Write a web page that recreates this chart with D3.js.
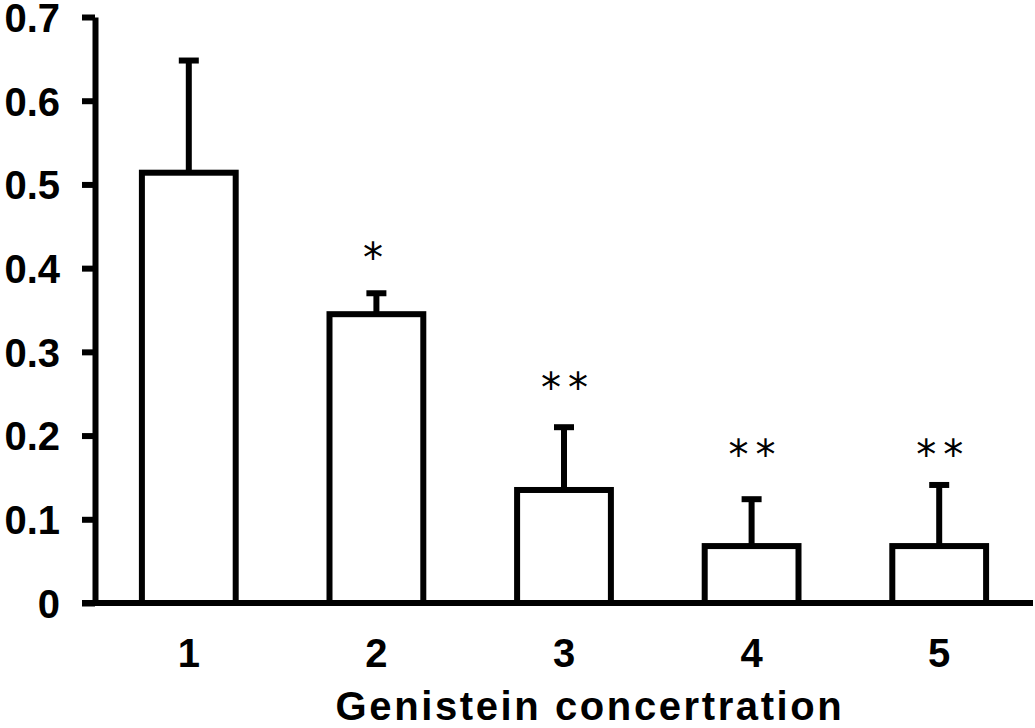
<!DOCTYPE html>
<html>
<head>
<meta charset="utf-8">
<script src="https://cdn.jsdelivr.net/npm/d3@7"></script>
<style>
  body { margin: 0; background: #fff; }
  text { font-family: "Liberation Sans", Arial, sans-serif; }
</style>
</head>
<body>
<div id="chart"></div>
<script>
// Chart data
var groups = ["1", "2", "3", "4", "5"];
var means = [0.514, 0.345, 0.135, 0.068, 0.068];
var errors = [0.134, 0.025, 0.075, 0.056, 0.073];
var marks = ["", "*", "**", "**", "**"];
var markLevels = [0, 0.422, 0.266, 0.186, 0.186];
var yTicks = [0, 0.1, 0.2, 0.3, 0.4, 0.5, 0.6, 0.7];

var svgWidth = 1035;
var svgHeight = 728;

var svg = d3.select("#chart")
  .append("svg")
  .attr("width", svgWidth)
  .attr("height", svgHeight);

var data = groups.map(function(g, i) {
  return { group: g, mean: means[i], err: errors[i], mark: marks[i], markAt: markLevels[i] };
});

// scales
var xScale = d3.scaleBand().domain(groups).range([95, 1033]).paddingInner(0.5).paddingOuter(0.25);
var yScale = d3.scaleLinear().domain([0, 0.7]).range([603, 17]);
var center = d => xScale(d) + xScale.bandwidth() / 2;

// bars
svg.selectAll("rect.bar")
  .data(data)
  .enter()
  .append("rect")
  .attr("class", "bar")
  .attr("x", d => xScale(d.group))
  .attr("y", d => yScale(d.mean))
  .attr("width", xScale.bandwidth())
  .attr("height", d => yScale(0) - yScale(d.mean))
  .attr("fill", "#fff")
  .attr("stroke", "#000")
  .attr("stroke-width", 6);

// error bars (upper only)
svg.selectAll("line.err")
  .data(data)
  .enter()
  .append("line")
  .attr("class", "err")
  .attr("x1", d => center(d.group))
  .attr("x2", d => center(d.group))
  .attr("y1", d => yScale(d.mean))
  .attr("y2", d => yScale(d.mean + d.err))
  .attr("stroke", "#000")
  .attr("stroke-width", 6);

svg.selectAll("line.cap")
  .data(data)
  .enter()
  .append("line")
  .attr("class", "cap")
  .attr("x1", d => center(d.group) - 10)
  .attr("x2", d => center(d.group) + 10)
  .attr("y1", d => yScale(d.mean + d.err))
  .attr("y2", d => yScale(d.mean + d.err))
  .attr("stroke", "#000")
  .attr("stroke-width", 6);

// significance marks
svg.selectAll("text.sig")
  .data(data.filter(d => d.mark))
  .enter()
  .append("text")
  .attr("class", "sig")
  .attr("x", d => center(d.group) + (d.mark.length > 1 ? 4 : 0))
  .attr("y", d => yScale(d.markAt) + 22)
  .attr("text-anchor", "middle")
  .style("font-family", "'DejaVu Sans', sans-serif")
  .style("font-size", "40px")
  .style("letter-spacing", "7px")
  .text(d => d.mark);

// y axis
var leftAxis = d3.axisLeft(yScale)
  .tickValues(yTicks)
  .tickSize(13)
  .tickSizeOuter(0)
  .tickFormat(d => d === 0 ? "0" : d3.format(".1f")(d));

var yAxisG = svg.append("g")
  .attr("transform", "translate(95,0)")
  .call(leftAxis);
yAxisG.select(".domain").attr("stroke-width", 6);
yAxisG.selectAll(".tick line").attr("stroke-width", 6);
yAxisG.selectAll(".tick text")
  .attr("x", -35)
  .attr("dy", "0.36em")
  .style("font-size", "40px")
  .style("font-weight", "bold")
  .style("font-family", "'Liberation Sans', Arial, sans-serif")
  .attr("fill", "#000");

// x axis
svg.append("line")
  .attr("x1", 82)
  .attr("x2", 1033)
  .attr("y1", yScale(0))
  .attr("y2", yScale(0))
  .attr("stroke", "#000")
  .attr("stroke-width", 6);

svg.selectAll("text.xlab")
  .data(groups)
  .enter()
  .append("text")
  .attr("class", "xlab")
  .attr("x", d => center(d))
  .attr("y", 667)
  .attr("text-anchor", "middle")
  .style("font-size", "40px")
  .style("font-weight", "bold")
  .text(d => d);

// axis title
svg.append("text")
  .attr("x", 590)
  .attr("y", 720)
  .attr("text-anchor", "middle")
  .style("font-size", "40px")
  .style("font-weight", "bold")
  .style("letter-spacing", "2.6px")
  .text("Genistein concertration");
</script>
</body>
</html>
